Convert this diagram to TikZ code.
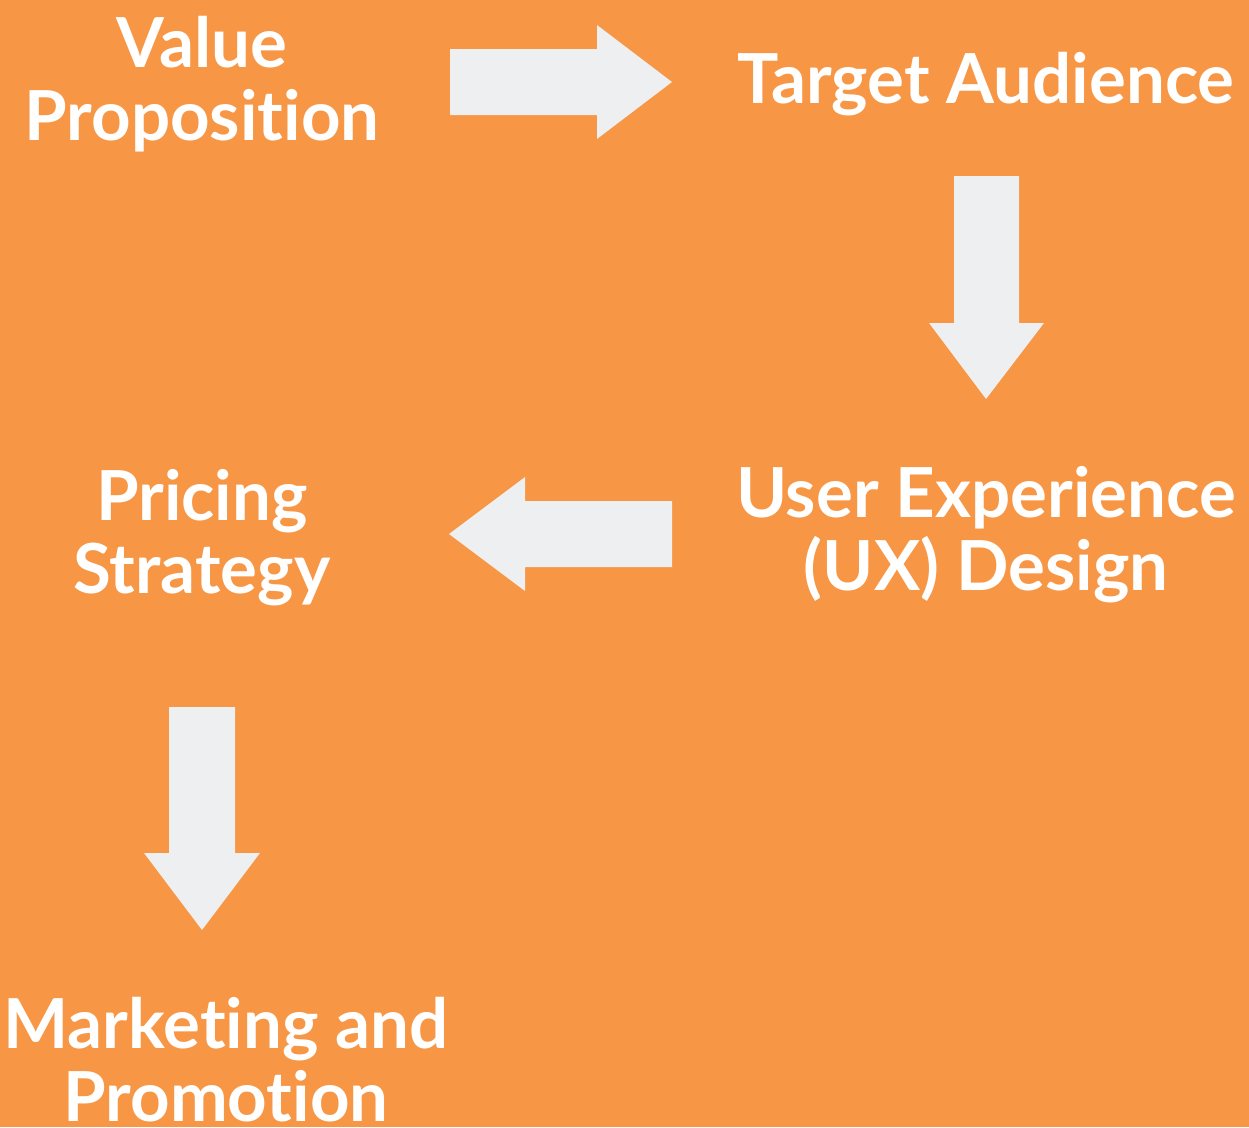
\documentclass[tikz,border=0pt]{standalone}
\usepackage{fontspec}
\setmainfont{Lato}[UprightFont=* Bold,Ligatures=CommonOff]
\definecolor{bgorange}{HTML}{F79644}
\definecolor{arrowgray}{HTML}{EEEFF1}
\begin{document}
\begin{tikzpicture}[x=1pt,y=-1pt,
  lbl/.style={text=white,align=center,inner sep=0pt,anchor=base,font=\fontsize{69}{73}\selectfont},
  blockarrow/.style={fill=arrowgray,draw=none}]
\fill[bgorange] (0,0) rectangle (1249,1127);
\useasboundingbox (0,0) rectangle (1249,1127);
\node[lbl] (vp) at (202,140) {Value\\Proposition};
\node[lbl] (ta) at (986,103) {Target Audience};
\node[lbl] (ux) at (986,590) {User Experience\\(UX) Design};
\node[lbl] (ps) at (202,593) {Pricing\\Strategy};
\node[lbl] (mp) at (226,1121) {Marketing and\\Promotion};
% right arrow
\fill[blockarrow] (450,49) -- (597,49) -- (597,25) -- (672,82) -- (597,139) -- (597,115) -- (450,115) -- cycle;
% down arrow right
\fill[blockarrow] (954,176) -- (1019,176) -- (1019,323) -- (1044,323) -- (986,399) -- (929,323) -- (954,323) -- cycle;
% left arrow
\fill[blockarrow] (672,501) -- (525,501) -- (525,477) -- (449,534) -- (525,591) -- (525,567) -- (672,567) -- cycle;
% down arrow left
\fill[blockarrow] (169,707) -- (235,707) -- (235,853) -- (260,853) -- (202,930) -- (144,853) -- (169,853) -- cycle;
\end{tikzpicture}
\end{document}
